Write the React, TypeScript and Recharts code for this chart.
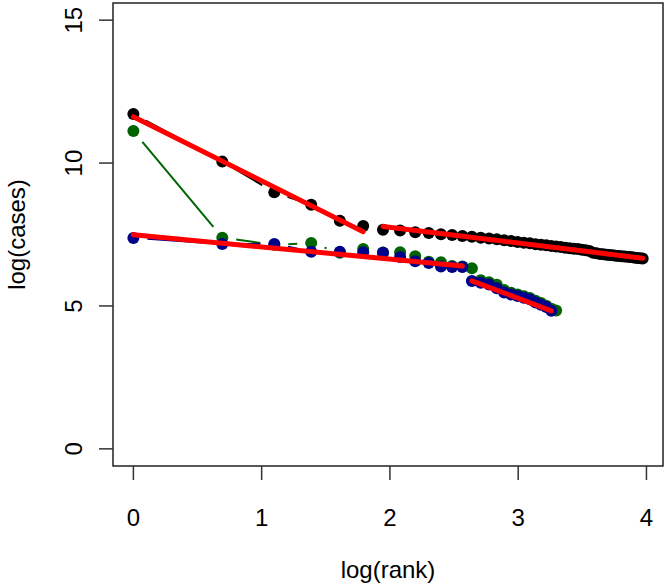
import { ReferenceArea, Scatter, ScatterChart, XAxis, YAxis } from "recharts";

// log(cases), one value per rank (rank 1 first)
const blackCases = [
  11.72, 10.05, 8.98, 8.54, 7.98, 7.8, 7.67, 7.64, 7.58, 7.55, 7.51, 7.48, 7.45, 7.42,
  7.39, 7.36, 7.33, 7.3, 7.27, 7.24, 7.21, 7.19, 7.16, 7.14, 7.12, 7.1, 7.08, 7.06,
  7.04, 7.02, 7.0, 6.99, 6.97, 6.95, 6.92, 6.86, 6.84, 6.82, 6.81, 6.79, 6.78, 6.77,
  6.76, 6.75, 6.74, 6.73, 6.72, 6.71, 6.7, 6.69, 6.68, 6.67, 6.66,
];
const greenCases = [
  11.12, 7.39, 7.14, 7.2, 6.86, 6.99, 6.87, 6.88, 6.74, 6.55, 6.53, 6.4, 6.38, 6.32,
  5.9, 5.83, 5.74, 5.56, 5.46, 5.4, 5.34, 5.28, 5.18, 5.1, 5.01, 4.9, 4.84,
];
const blueCases = [
  7.38, 7.17, 7.17, 6.9, 6.9, 6.88, 6.86, 6.71, 6.56, 6.5, 6.38, 6.36, 6.36, 5.87,
  5.81, 5.75, 5.62, 5.47, 5.4, 5.35, 5.29, 5.23, 5.12, 5.04, 4.96, 4.83,
];

// fitted segments: [first rank, last rank] and log(cases) at both ends
const fitRanks = [
  [1, 6],
  [7, 53],
  [1, 13],
  [14, 26],
];
const fitCases = [
  [11.62, 7.6],
  [7.78, 6.67],
  [7.49, 6.4],
  [5.88, 4.83],
];

const xTicks = [0, 1, 2, 3, 4];
const yTicks = [0, 5, 10, 15];

const FONT = "'Liberation Sans', Arial, sans-serif";
const X_DOMAIN: [number, number] = [-0.159, 4.129];
const Y_DOMAIN: [number, number] = [-0.6, 15.6];

const toPoints = (values: number[]) =>
  values.map((y, i) => ({ x: Math.log(i + 1), y }));

const blackData = toPoints(blackCases);
const greenData = toPoints(greenCases);
const blueData = toPoints(blueCases);
const fitData = fitRanks.map((r, i) => [
  { x: Math.log(r[0]), y: fitCases[i][0] },
  { x: Math.log(r[1]), y: fitCases[i][1] },
]);

// R's type="b": segments stop short of each point
function gappedLine(color: string) {
  return (props: any) => {
    const pts = props.points ?? [];
    const gap = 14;
    const segs = [];
    for (let i = 1; i < pts.length; i++) {
      const a = pts[i - 1];
      const b = pts[i];
      const dx = b.x - a.x;
      const dy = b.y - a.y;
      const len = Math.hypot(dx, dy);
      if (len <= 2 * gap) continue;
      const ux = dx / len;
      const uy = dy / len;
      segs.push(
        <line
          key={i}
          x1={a.x + ux * gap}
          y1={a.y + uy * gap}
          x2={b.x - ux * gap}
          y2={b.y - uy * gap}
          stroke={color}
          strokeWidth={2}
        />
      );
    }
    return <g>{segs}</g>;
  };
}

const dot = (color: string) => (p: any) =>
  <circle cx={p.cx} cy={p.cy} r={6} fill={color} />;

function XTick({ x, y, payload }: any) {
  return (
    <text x={x} y={y + 46} textAnchor="middle" fontSize={24} fontFamily={FONT} fill="#000">
      {payload.value}
    </text>
  );
}

function YTick({ x, y, payload }: any) {
  const bx = x - 17;
  return (
    <text
      x={bx}
      y={y}
      transform={`rotate(-90 ${bx} ${y})`}
      textAnchor="middle"
      fontSize={24}
      fontFamily={FONT}
      fill="#000"
    >
      {payload.value}
    </text>
  );
}

export default function App() {
  return (
    <div style={{ position: "absolute", left: 0, top: 0, background: "#fff" }}>
      <ScatterChart width={666} height={584} margin={{ top: 3, right: 3, bottom: 0, left: 0 }}>
        <XAxis
          type="number"
          dataKey="x"
          domain={X_DOMAIN}
          allowDataOverflow
          ticks={xTicks}
          height={118}
          tickSize={14}
          tickMargin={0}
          axisLine={false}
          tickLine={{ stroke: "#333", strokeWidth: 1.5 }}
          tick={<XTick />}
          label={{
            content: (p: any) => (
              <text
                x={p.viewBox.x + p.viewBox.width / 2}
                y={p.viewBox.y + 112}
                textAnchor="middle"
                fontSize={24}
                fontFamily={FONT}
                fill="#000"
              >
                log(rank)
              </text>
            ),
          }}
        />
        <YAxis
          type="number"
          dataKey="y"
          domain={Y_DOMAIN}
          allowDataOverflow
          ticks={yTicks}
          width={113}
          tickSize={14}
          tickMargin={0}
          axisLine={false}
          tickLine={{ stroke: "#333", strokeWidth: 1.5 }}
          tick={<YTick />}
          label={{
            content: (p: any) => {
              const cx = 25;
              const cy = p.viewBox.y + p.viewBox.height / 2;
              return (
                <text
                  x={cx}
                  y={cy}
                  transform={`rotate(-90 ${cx} ${cy})`}
                  textAnchor="middle"
                  fontSize={24}
                  fontFamily={FONT}
                  fill="#000"
                >
                  log(cases)
                </text>
              );
            },
          }}
        />
        <ReferenceArea
          x1={X_DOMAIN[0]}
          x2={X_DOMAIN[1]}
          y1={Y_DOMAIN[0]}
          y2={Y_DOMAIN[1]}
          fill="none"
          fillOpacity={0}
          stroke="#222"
          strokeWidth={1.5}
          ifOverflow="visible"
        />
        <Scatter
          data={blackData}
          fill="#000000"
          shape={dot("#000000")}
          line={gappedLine("#000000")}
          isAnimationActive={false}
        />
        <Scatter
          data={greenData}
          fill="#006400"
          shape={dot("#006400")}
          line={gappedLine("#006400")}
          isAnimationActive={false}
        />
        <Scatter
          data={blueData}
          fill="#00008B"
          shape={dot("#00008B")}
          line={gappedLine("#00008B")}
          isAnimationActive={false}
        />
        {fitData.map((seg, i) => (
          <Scatter
            key={i}
            data={seg}
            fill="#FF0000"
            shape={() => <g />}
            line={{ stroke: "#FF0000", strokeWidth: 5, strokeLinecap: "round" }}
            isAnimationActive={false}
          />
        ))}
      </ScatterChart>
    </div>
  );
}
